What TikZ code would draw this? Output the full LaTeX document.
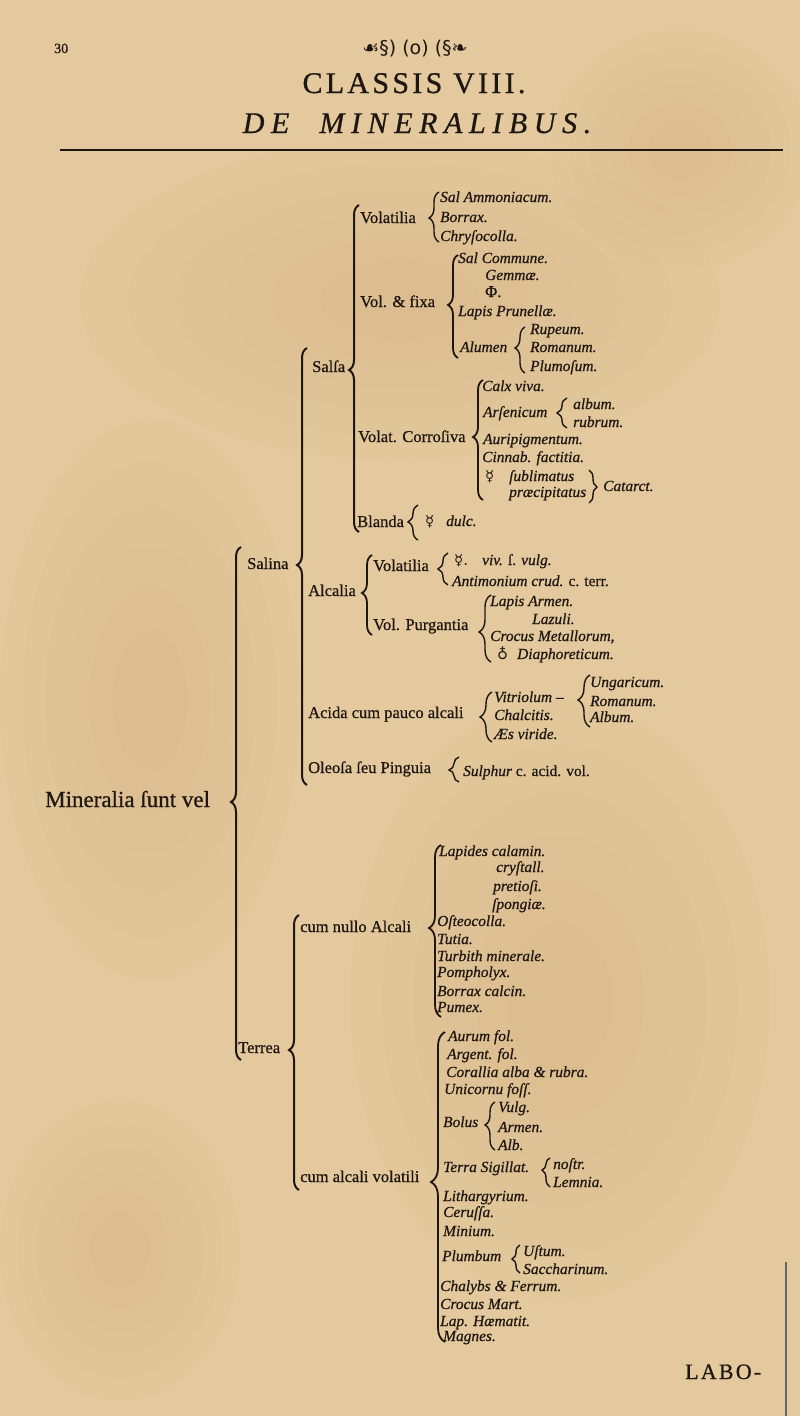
\documentclass[tikz,border=0pt]{standalone}
\usepackage{fontspec}
\setmainfont{Liberation Serif}[FakeBold=0.7]
\newfontfamily\symf{DejaVu Sans}
\usetikzlibrary{decorations.pathreplacing}
\definecolor{paper}{HTML}{E3C99D}
\definecolor{stain}{HTML}{C59F64}
\definecolor{ink}{HTML}{1E1610}
\newcommand\lbrc[6][1.4pt]{%
  \pgfmathsetmacro\bA{(#4-#5)/(#4-#3)}%
  \pgfmathsetmacro\bW{2*#6}%
  \pgfmathsetmacro\bX{#2+#6}%
  \draw[brc, line width=#1, decoration={brace, amplitude=\bW pt, aspect=\bA}] (\bX,#4) -- (\bX,#3);}
\newcommand\rbrc[5]{%
  \pgfmathsetmacro\bA{(#4-#2)/(#3-#2)}%
  \pgfmathsetmacro\bW{2*#5}%
  \pgfmathsetmacro\bX{#1-#5}%
  \draw[brc, line width=1.4pt, decoration={brace, amplitude=\bW pt, aspect=\bA}] (\bX,#2) -- (\bX,#3);}
\newcommand\softstain[4]{%
  \foreach \k in {1,0.85,0.7,0.55,0.4,0.25}{%
    \fill[stain, opacity=0.035] (#1,#2) ellipse ({#3*\k} and {#4*\k});}}
\begin{document}
\begin{tikzpicture}[x=1pt,y=-1pt,
  rm/.style={anchor=base west, inner sep=0pt, text=ink, font=\fontsize{16.5}{18}\selectfont},
  it/.style={anchor=base west, inner sep=0pt, text=ink, font=\itshape\fontsize{15.4}{17}\selectfont},
  sy/.style={anchor=base west, inner sep=0pt, text=ink, font=\symf\fontsize{15}{16}\selectfont},
  brc/.style={draw=ink, decorate},
]
\fill[paper] (0,0) rectangle (800,1416);
\useasboundingbox (0,0) rectangle (800,1416);
\softstain{150}{700}{150}{280}
\softstain{560}{1000}{210}{300}
\softstain{400}{300}{320}{160}
\softstain{120}{1250}{120}{150}
\softstain{680}{150}{130}{120}

% header
\node[anchor=base west, inner sep=0, text=ink, font=\fontsize{14}{14}\selectfont] (pg) at (54,53) {30};
\node[anchor=base, inner sep=0, text=ink, font=\symf\fontsize{19}{19}\selectfont] (orn) at (415,54) {☙§) (o) (§❧};
\node[anchor=base, inner sep=0, text=ink, font=\fontsize{30}{30}\selectfont\addfontfeature{LetterSpace=11}] (cls) at (414,93) {CLASSIS VIII.};
\node[anchor=base, inner sep=0, text=ink, font=\itshape\fontsize{30}{30}\selectfont\addfontfeature{LetterSpace=22}] (ttl) at (417,133) {DE\hspace{16pt} MINERALIBUS.};
\coordinate (r1) at (60,150); \coordinate (r2) at (783,150);
\draw[ink, line width=1.8pt] (r1) -- (r2);

% level 0
\node[anchor=base west, inner sep=0, text=ink, font=\fontsize{23}{24}\selectfont] (min) at (45,807) {Mineralia ſunt vel};
\lbrc[2pt]{236}{547}{1060}{802}{5}

% Salina branch
\node[rm] (salina) at (247,569) {Salina};
\lbrc[2pt]{302}{348}{785}{565}{5}
\node[rm] (salsa) at (312,372) {Salſa};
\lbrc[2pt]{354}{205}{532}{370}{5}

\node[rm] (vol1) at (360,223) {Volatilia};
\lbrc{434}{192}{242}{218}{5}
\node[it] (a1) at (440,202) {Sal Ammoniacum.};
\node[it] (a2) at (440,222) {Borrax.};
\node[it] (a3) at (440,241) {Chryſocolla.};

\node[rm] (vf) at (360,307) {Vol. \& fixa};
\lbrc[1.8pt]{453}{255}{358}{305}{5}
\node[it] (b1) at (458,263) {Sal Commune.};
\node[it] (b2) at (485,280) {Gemmæ.};
\node[rm] (b3) at (485,297) {Φ.};
\node[it] (b4) at (458,316) {Lapis Prunellæ.};
\node[it] (b5) at (460,352) {Alumen};
\lbrc{520}{327}{373}{348}{5}
\node[it] (b6) at (530,334) {Rupeum.};
\node[it] (b7) at (530,352) {Romanum.};
\node[it] (b8) at (530,371) {Plumoſum.};

\node[rm] (vc) at (358,442) {Volat. Corroſiva};
\lbrc[1.8pt]{478}{380}{500}{437}{5}
\node[it] (c1) at (482,391) {Calx viva.};
\node[it] (c2) at (483,417) {Arſenicum};
\lbrc{562}{398}{428}{413}{5}
\node[it] (c3) at (573,409) {album.};
\node[it] (c4) at (573,427) {rubrum.};
\node[it] (c5) at (483,444) {Auripigmentum.};
\node[it] (c6) at (482,462) {Cinnab. factitia.};
\node[sy] (c7s) at (485,481) {☿};
\node[it] (c7) at (509,481) {ſublimatus};
\node[it] (c8) at (509,497) {præcipitatus};
\rbrc{593}{470}{503}{487}{4}
\node[it] (c9) at (603,491) {Catarct.};

\node[rm] (bl) at (357,527) {Blanda};
\lbrc{413}{505}{540}{522}{5}
\node[sy] (d1s) at (425,526) {☿};
\node[it] (d1) at (446,526) {dulc.};

\node[rm] (alc) at (308,596) {Alcalia};
\lbrc[1.8pt]{367}{555}{635}{593}{5}
\node[rm] (vol2) at (373,571) {Volatilia};
\lbrc{443}{553}{585}{569}{5}
\node[sy] (e1s) at (454,565) {☿.};
\node[it] (e1) at (482,565) {viv. {\upshape ſ.} vulg.};
\node[it] (e2) at (452,586) {Antimonium crud. {\upshape c. terr.}};
\node[rm] (vp) at (373,630) {Vol. Purgantia};
\lbrc{485}{595}{662}{632}{6}
\node[it] (f1) at (490,606) {Lapis Armen.};
\node[it] (f2) at (532,624) {Lazuli.};
\node[it] (f3) at (490,641) {Crocus Metallorum,};
\node[sy] (f4s) at (497,659) {♁};
\node[it] (f4) at (517,659) {Diaphoreticum.};

\node[rm] (ac) at (308,718) {Acida cum pauco alcali};
\lbrc{486}{692}{742}{717}{6}
\node[it] (g1) at (494,702) {Vitriolum --};
\lbrc{584}{675}{727}{700}{6}
\node[it] (g1a) at (590,687) {Ungaricum.};
\node[it] (g1b) at (590,706) {Romanum.};
\node[it] (g1c) at (590,722) {Album.};
\node[it] (g2) at (494,720) {Chalcitis.};
\node[it] (g3) at (494,739) {Æs viride.};

\node[rm] (ol) at (308,773) {Oleoſa ſeu Pinguia};
\lbrc{454}{757}{782}{770}{5}
\node[it] (h1) at (463,776) {Sulphur {\upshape c. acid. vol.}};

% Terrea branch
\node[rm] (ter) at (238,1053) {Terrea};
\lbrc[2pt]{294}{915}{1190}{1050}{5}
\node[rm] (cn) at (300,932) {cum nullo Alcali};
\lbrc[1.8pt]{435}{845}{1017}{928}{6}
\node[it] (i1) at (439,856) {Lapides calamin.};
\node[it] (i2) at (496,872) {cryſtall.};
\node[it] (i3) at (493,891) {pretioſi.};
\node[it] (i4) at (492,909) {ſpongiæ.};
\node[it] (i5) at (437,926) {Oſteocolla.};
\node[it] (i6) at (437,944) {Tutia.};
\node[it] (i7) at (437,961) {Turbith minerale.};
\node[it] (i8) at (437,977) {Pompholyx.};
\node[it] (i9) at (437,996) {Borrax calcin.};
\node[it] (i10) at (437,1012) {Pumex.};

\node[rm] (cv) at (300,1182) {cum alcali volatili};
\lbrc[1.8pt]{438}{1032}{1342}{1182}{7}
\node[it] (j1) at (448,1041) {Aurum fol.};
\node[it] (j2) at (447,1059) {Argent. fol.};
\node[it] (j3) at (446,1077) {Corallia alba \& rubra.};
\node[it] (j4) at (444,1094) {Unicornu foſſ.};
\node[it] (j5) at (443,1127) {Bolus};
\lbrc{490}{1102}{1150}{1125}{5}
\node[it] (j5a) at (498,1112) {Vulg.};
\node[it] (j5b) at (498,1132) {Armen.};
\node[it] (j5c) at (498,1150) {Alb.};
\node[it] (j6) at (443,1172) {Terra Sigillat.};
\lbrc{546}{1158}{1187}{1170}{4}
\node[it] (j6a) at (553,1169) {noſtr.};
\node[it] (j6b) at (553,1187) {Lemnia.};
\node[it] (j7) at (443,1201) {Lithargyrium.};
\node[it] (j8) at (443,1217) {Ceruſſa.};
\node[it] (j9) at (443,1236) {Minium.};
\node[it] (j10) at (442,1261) {Plumbum};
\lbrc{516}{1245}{1273}{1259}{4}
\node[it] (j10a) at (523,1256) {Uſtum.};
\node[it] (j10b) at (523,1274) {Saccharinum.};
\node[it] (j11) at (440,1291) {Chalybs \& Ferrum.};
\node[it] (j12) at (440,1309) {Crocus Mart.};
\node[it] (j13) at (440,1326) {Lap. Hæmatit.};
\node[it] (j14) at (443,1341) {Magnes.};

% catchword and page edge
\node[anchor=base west, inner sep=0, text=ink, font=\fontsize{22}{22}\selectfont\addfontfeature{LetterSpace=10}] (cw) at (685,1379) {LABO-};
\coordinate (e1) at (786,1262); \coordinate (e2) at (786,1416);
\draw[line width=2.5pt, color=black!60] (e1) -- (e2);
\end{tikzpicture}
\end{document}
